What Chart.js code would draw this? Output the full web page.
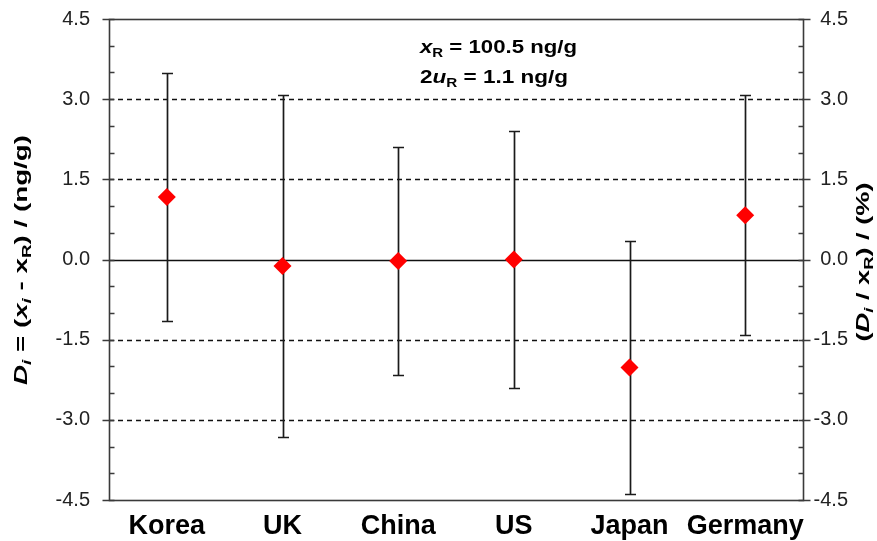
<!DOCTYPE html>
<html>
<head>
<meta charset="utf-8">
<title>Degrees of equivalence</title>
<script src="https://cdn.jsdelivr.net/npm/chart.js@4.4.1/dist/chart.umd.min.js"></script>
<style>
  html, body { margin: 0; padding: 0; background: #ffffff; }
  #wrap { width: 877px; height: 541px; position: relative; }
</style>
</head>
<body>
<div id="wrap"><canvas id="chart"></canvas></div>
<script>
// Participating laboratories
const categories = ['Korea', 'UK', 'China', 'US', 'Japan', 'Germany'];
// Degree of equivalence D_i = x_i - x_R (ng/g)
const deviations = [1.17, -0.12, -0.03, 0.00, -2.02, 0.83];
// Expanded uncertainty of D_i (ng/g), drawn as symmetric error bars
const expandedU = [2.32, 3.20, 2.14, 2.41, 2.36, 2.24];
// Axis range and tick spacing
const axisMin = -4.5;
const axisMax = 4.5;
const majorStep = 1.5;
const minorStep = 0.5;
// Reference value annotation
const refLines = [
  [['x', 'i'], ['R', 's'], [' = 100.5 ng/g', '']],
  [['2', ''], ['u', 'i'], ['R', 's'], [' = 1.1 ng/g', '']]
];
const leftTitle = [['D', 'i'], ['i', 'is'], [' = (', ''], ['x', 'i'], ['i', 'is'], [' - x', ''], ['R', 's'], [') / (ng/g)', '']];
const rightTitle = [['(', ''], ['D', 'i'], ['i', 'is'], [' / x', ''], ['R', 's'], [') / (%)', '']];

const FAMILY = "'Liberation Sans', Arial, Helvetica, sans-serif";
Chart.defaults.font.family = FAMILY;

// Draws a run of mixed italic / subscript bold text, stretched to a given length.
function drawRich(ctx, segs, size, x, y, angle, length, align) {
  ctx.save();
  ctx.translate(x, y);
  ctx.rotate(angle);
  const fonts = segs.map(([, st]) => {
    const sub = st.includes('s');
    const it = st.includes('i');
    return (it ? 'italic ' : '') + 'bold ' + (sub ? size * 0.68 : size).toFixed(1) + 'px ' + FAMILY;
  });
  let w = 0;
  const widths = segs.map((s, k) => { ctx.font = fonts[k]; const m = ctx.measureText(s[0]).width; w += m; return m; });
  const sx = length / w;
  ctx.scale(sx, 1);
  let xx = align === 'center' ? -w / 2 : 0;
  ctx.fillStyle = '#000';
  ctx.textBaseline = 'alphabetic';
  ctx.textAlign = 'left';
  segs.forEach((s, k) => {
    ctx.font = fonts[k];
    ctx.fillText(s[0], xx, s[1].includes('s') ? size * 0.22 : 0);
    xx += widths[k];
  });
  ctx.restore();
}

const framePlugin = {
  id: 'framePlugin',
  beforeDatasetsDraw(chart) {
    const { ctx, chartArea: a, scales } = chart;
    const x = scales.x, y = scales.y;
    ctx.save();

    // horizontal reference lines
    const nMajor = Math.round((axisMax - axisMin) / majorStep);
    for (let k = 1; k < nMajor; k++) {
      const v = axisMin + k * majorStep;
      const py = Math.round(y.getPixelForValue(v)) + 0.5;
      ctx.beginPath();
      if (Math.abs(v) < 1e-9) {
        ctx.setLineDash([]);
        ctx.lineWidth = 1.6;
      } else {
        ctx.setLineDash([5, 4]);
        ctx.lineWidth = 1.5;
      }
      ctx.strokeStyle = '#111';
      ctx.moveTo(a.left, py);
      ctx.lineTo(a.right, py);
      ctx.stroke();
    }
    ctx.setLineDash([]);

    // plot frame
    ctx.strokeStyle = '#3a3a3a';
    ctx.lineWidth = 1.6;
    ctx.strokeRect(Math.round(a.left) + 0.5, Math.round(a.top) + 0.5, Math.round(a.width), Math.round(a.height));

    // tick marks on both value axes
    const nMinor = Math.round((axisMax - axisMin) / minorStep);
    const perMajor = Math.round(majorStep / minorStep);
    for (let k = 0; k <= nMinor; k++) {
      const v = axisMin + k * minorStep;
      const py = Math.round(y.getPixelForValue(v)) + 0.5;
      const major = k % perMajor === 0;
      const lx = Math.round(a.left) + 0.5, rx = Math.round(a.right) + 0.5;
      ctx.beginPath();
      if (major) {
        ctx.moveTo(lx - 7, py); ctx.lineTo(lx + 5, py);
        ctx.moveTo(rx - 5, py); ctx.lineTo(rx + 7, py);
      } else {
        ctx.moveTo(lx, py); ctx.lineTo(lx + 5, py);
        ctx.moveTo(rx - 5, py); ctx.lineTo(rx, py);
      }
      ctx.stroke();
    }

    // error bars
    ctx.strokeStyle = '#1a1a1a';
    ctx.lineWidth = 1.7;
    deviations.forEach((d, i) => {
      const px = Math.round(x.getPixelForValue(i)) + 0.5;
      const yt = Math.round(y.getPixelForValue(d + expandedU[i])) + 0.5;
      const yb = Math.round(y.getPixelForValue(d - expandedU[i])) + 0.5;
      ctx.beginPath();
      ctx.moveTo(px, yt); ctx.lineTo(px, yb);
      ctx.moveTo(px - 5.5, yt); ctx.lineTo(px + 5.5, yt);
      ctx.moveTo(px - 5.5, yb); ctx.lineTo(px + 5.5, yb);
      ctx.stroke();
    });
    ctx.restore();
  },
  afterDraw(chart) {
    const { ctx } = chart;
    // reference value text
    drawRich(ctx, refLines[0], 18, 420, 53, 0, 157, 'left');
    drawRich(ctx, refLines[1], 18, 420, 83, 0, 148, 'left');
    // axis titles (rotated, reading upwards)
    drawRich(ctx, leftTitle, 19, 27, 260, -Math.PI / 2, 250, 'center');
    drawRich(ctx, rightTitle, 19, 869, 262, -Math.PI / 2, 159, 'center');
  }
};

const fmt = v => Number(v).toFixed(1);

// fixed axis sizes so the plot area sits at a set place
function fixVertical(width) {
  return s => { s.width = width; s.paddingTop = 0; s.paddingBottom = 0; };
}

new Chart(document.getElementById('chart'), {
  type: 'line',
  data: {
    labels: categories,
    datasets: [{
      label: 'D_i',
      data: deviations,
      showLine: false,
      pointStyle: 'rectRot',
      pointRadius: 9,
      pointHoverRadius: 9,
      pointBackgroundColor: '#ff0000',
      pointBorderColor: '#ff0000',
      pointBorderWidth: 0,
      yAxisID: 'y'
    }]
  },
  options: {
    responsive: true,
    maintainAspectRatio: false,
    animation: false,
    layout: { padding: { top: 19, left: 0, right: 29, bottom: 0 } },
    plugins: { legend: { display: false }, tooltip: { enabled: false } },
    scales: {
      x: {
        type: 'category',
        offset: true,
        grid: { display: false, drawTicks: false },
        border: { display: false },
        ticks: {
          color: '#000',
          padding: 10,
          maxRotation: 0,
          autoSkip: false,
          font: { size: 27, weight: 'bold' }
        },
        afterFit(s) { s.height = 41; s.paddingLeft = 0; s.paddingRight = 0; }
      },
      y: {
        position: 'left',
        min: axisMin,
        max: axisMax,
        grid: { display: false, drawTicks: false },
        border: { display: false },
        ticks: {
          stepSize: majorStep,
          color: '#222',
          padding: 19,
          font: { size: 20 },
          callback: fmt
        },
        afterFit: fixVertical(109)
      },
      y2: {
        position: 'right',
        min: axisMin,
        max: axisMax,
        grid: { display: false, drawTicks: false },
        border: { display: false },
        ticks: {
          stepSize: majorStep,
          color: '#222',
          padding: 10,
          crossAlign: 'far',
          font: { size: 20 },
          callback: fmt
        },
        afterFit: fixVertical(45)
      }
    }
  },
  plugins: [framePlugin]
});
</script>
</body>
</html>
